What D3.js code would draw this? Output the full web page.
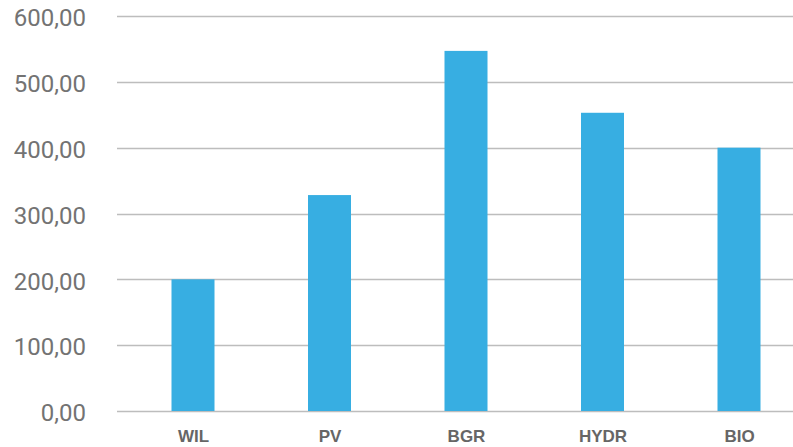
<!DOCTYPE html>
<html>
<head>
<meta charset="utf-8">
<script src="https://cdn.jsdelivr.net/npm/d3@7"></script>
<style>
  html, body { margin: 0; padding: 0; background: #ffffff; }
  svg { display: block; }
</style>
</head>
<body>
<svg id="chart" width="793" height="447"></svg>
<script>
// Energy sources and their values
const categories = ["WIL", "PV", "BGR", "HYDR", "BIO"];
const values = [200, 328, 547, 453, 400];
const yTicks = [0, 100, 200, 300, 400, 500, 600];

const width = 793, height = 447;
const svg = d3.select("#chart");

const y = d3.scaleLinear().domain([0, 600]).range([411, 16]);
const x = d3.scalePoint().domain(categories).range([193, 739]);
const barWidth = 43;
const fmt = v => d3.format(".2f")(v).replace(".", ",");

// Horizontal gridlines
svg.append("g")
  .selectAll("line")
  .data(yTicks)
  .join("line")
  .attr("x1", 117)
  .attr("x2", width)
  .attr("y1", d => Math.round(y(d)) + 0.5)
  .attr("y2", d => Math.round(y(d)) + 0.5)
  .attr("stroke", "#bdbdbd")
  .attr("stroke-width", 1.3);

// Y axis labels
const yAxis = d3.axisLeft(y).tickValues(yTicks).tickFormat(fmt).tickSize(0).tickPadding(0);
const gy = svg.append("g").attr("transform", "translate(86,2)").call(yAxis);
gy.select(".domain").remove();
gy.selectAll("text")
  .attr("font-family", "Roboto, 'Liberation Sans', sans-serif")
  .attr("font-weight", 400)
  .attr("font-size", 24)
  .attr("fill", "#737373");

// Bars
svg.append("g")
  .selectAll("rect")
  .data(categories.map((c, i) => ({ c, v: values[i] })))
  .join("rect")
  .attr("x", d => x(d.c) - barWidth / 2)
  .attr("width", barWidth)
  .attr("y", d => y(d.v))
  .attr("height", d => y(0) - y(d.v))
  .attr("fill", "#37aee2");

// Category labels
const xAxis = d3.axisBottom(x).tickSize(0).tickPadding(0);
const gx = svg.append("g").attr("transform", "translate(0,430)").call(xAxis);
gx.select(".domain").remove();
gx.selectAll("text")
  .attr("font-family", "'Liberation Sans', Arial, sans-serif")
  .attr("font-weight", "bold")
  .attr("font-size", 17)
  .attr("fill", "#666666");
</script>
</body>
</html>
